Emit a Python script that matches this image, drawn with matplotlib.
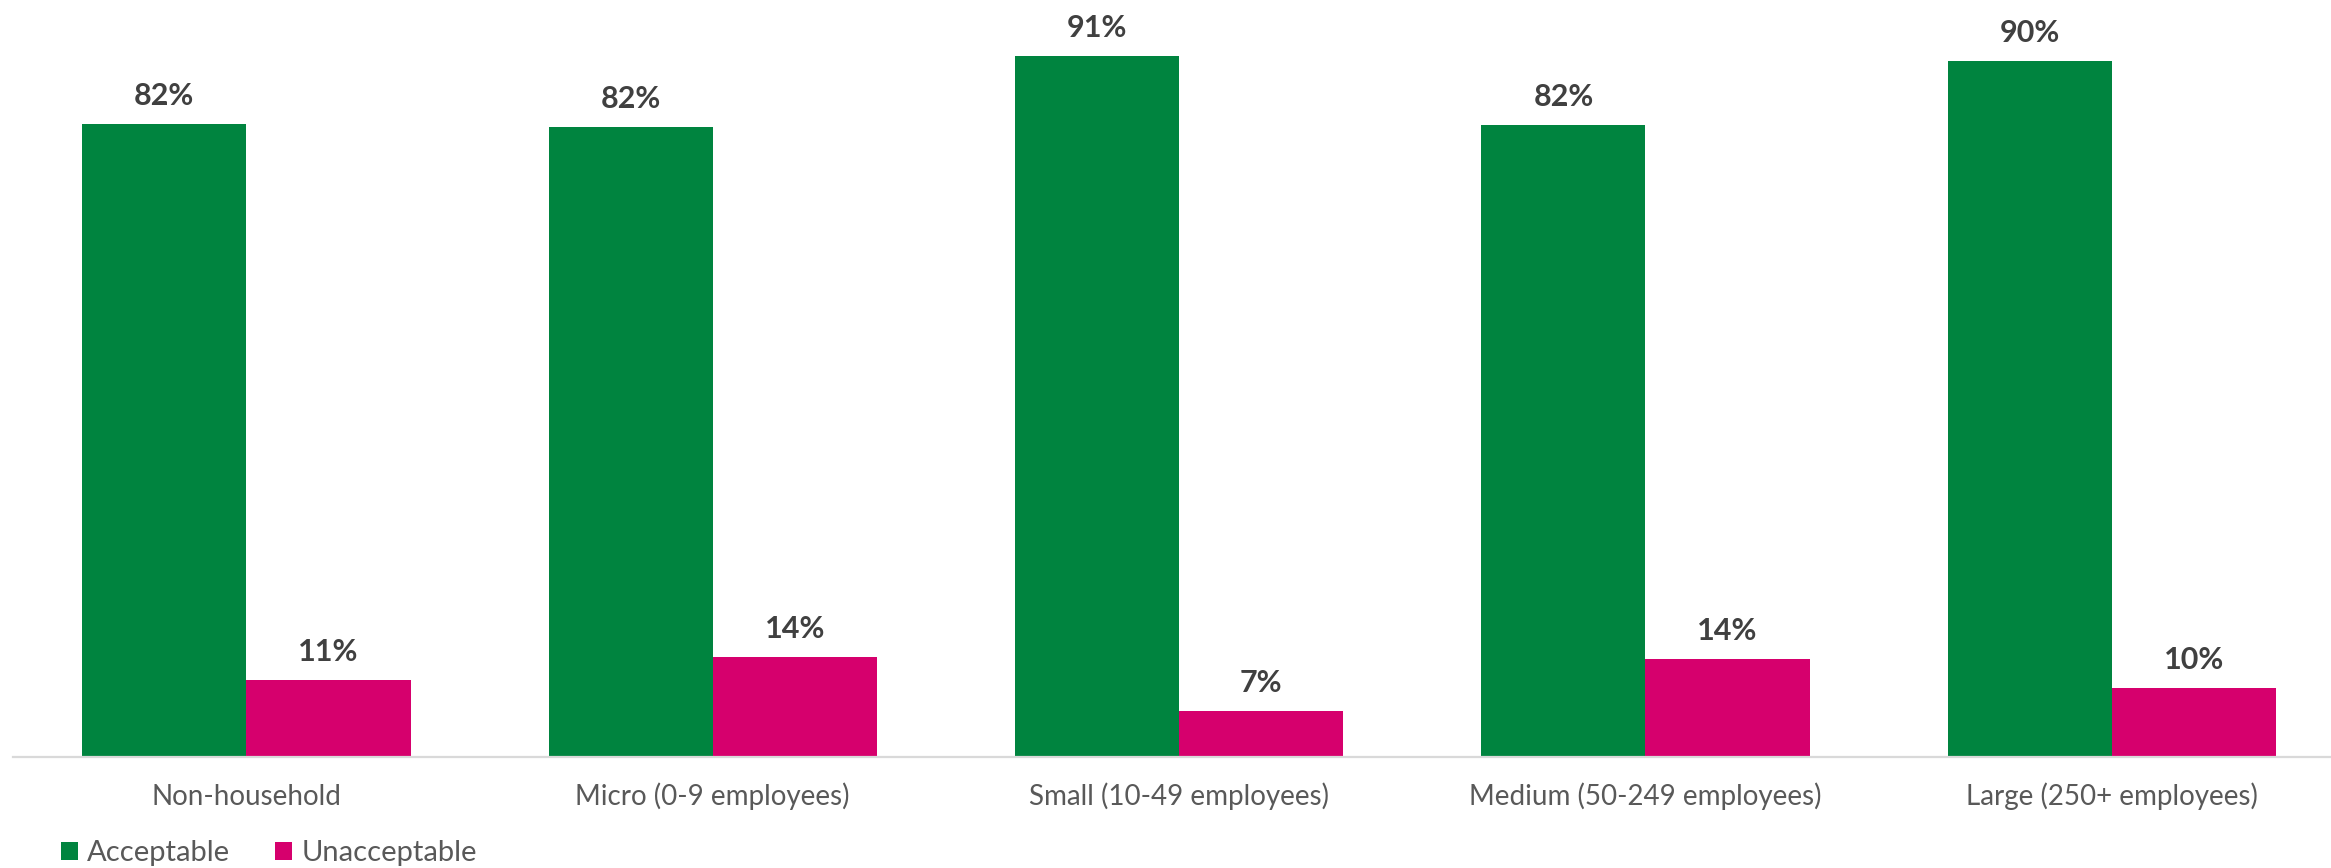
import matplotlib
matplotlib.use("Agg")
import matplotlib.pyplot as plt
from matplotlib.patches import Patch
import numpy as np

categories = ["Non-household", "Micro (0-9 employees)", "Small (10-49 employees)",
              "Medium (50-249 employees)", "Large (250+ employees)"]
acceptable = [82.0, 81.6, 90.8, 81.9, 90.2]
unacceptable = [10.0, 12.9, 5.9, 12.7, 9.0]
acceptable_labels = ["82%", "82%", "91%", "82%", "90%"]
unacceptable_labels = ["11%", "14%", "7%", "14%", "10%"]
series_names = ["Acceptable", "Unacceptable"]

GREEN = "#00843F"
PINK = "#D6006D"

plt.rcParams['font.family'] = ['Lato', 'DejaVu Sans']

W, H, DPI = 2331, 868, 100
fig = plt.figure(figsize=(W / DPI, H / DPI), dpi=DPI)

base_px = 757.0
left_px = 13.1
group_px = 466.4
px_per_unit = 7.72

ax = fig.add_axes([left_px / W, (H - base_px) / H, (W - left_px) / W, base_px / H])
ax.set_xlim(-0.5, -0.5 + (W - left_px) / group_px)
ax.set_ylim(0, base_px / px_per_unit)

x = np.arange(len(categories))
bw = 164.2 / group_px
b1 = ax.bar(x - bw / 2, acceptable, bw, color=GREEN, label=series_names[0], zorder=2)
b2 = ax.bar(x + bw / 2, unacceptable, bw, color=PINK, label=series_names[1], zorder=2)

label_offset = 19 * 72 / DPI
for bars, labs in ((b1, acceptable_labels), (b2, unacceptable_labels)):
    for rect, lab in zip(bars, labs):
        ax.annotate(lab, (rect.get_x() + rect.get_width() / 2, rect.get_height()),
                    xytext=(0, label_offset), textcoords="offset points",
                    ha="center", va="baseline", fontsize=22, fontweight="bold",
                    color="#404040")

for s in ("top", "right", "left"):
    ax.spines[s].set_visible(False)
ax.spines["bottom"].set_color("#D9D9D9")
ax.spines["bottom"].set_linewidth(1.6)
ax.spines["bottom"].set_zorder(3)
ax.set_yticks([])
ax.set_xticks(x)
ax.set_xticklabels(categories, fontsize=20, color="#595959")
ax.tick_params(axis="x", length=0, pad=48 * 72 / DPI)
for t in ax.get_xticklabels():
    t.set_va("baseline")

leg_fs = 21
fs_px = leg_fs * DPI / 72
handles = [Patch(facecolor=GREEN, edgecolor="none"), Patch(facecolor=PINK, edgecolor="none")]
leg = fig.legend(handles, series_names, loc="center left",
                 bbox_to_anchor=(61 / W, (H - 853) / H), ncol=2, frameon=False,
                 fontsize=leg_fs, handlelength=17 / fs_px, handleheight=17 / fs_px,
                 handletextpad=9 / fs_px, columnspacing=45 / fs_px,
                 borderpad=0, borderaxespad=0)
for t in leg.get_texts():
    t.set_color("#595959")

fig.savefig("out.png", dpi=DPI)
